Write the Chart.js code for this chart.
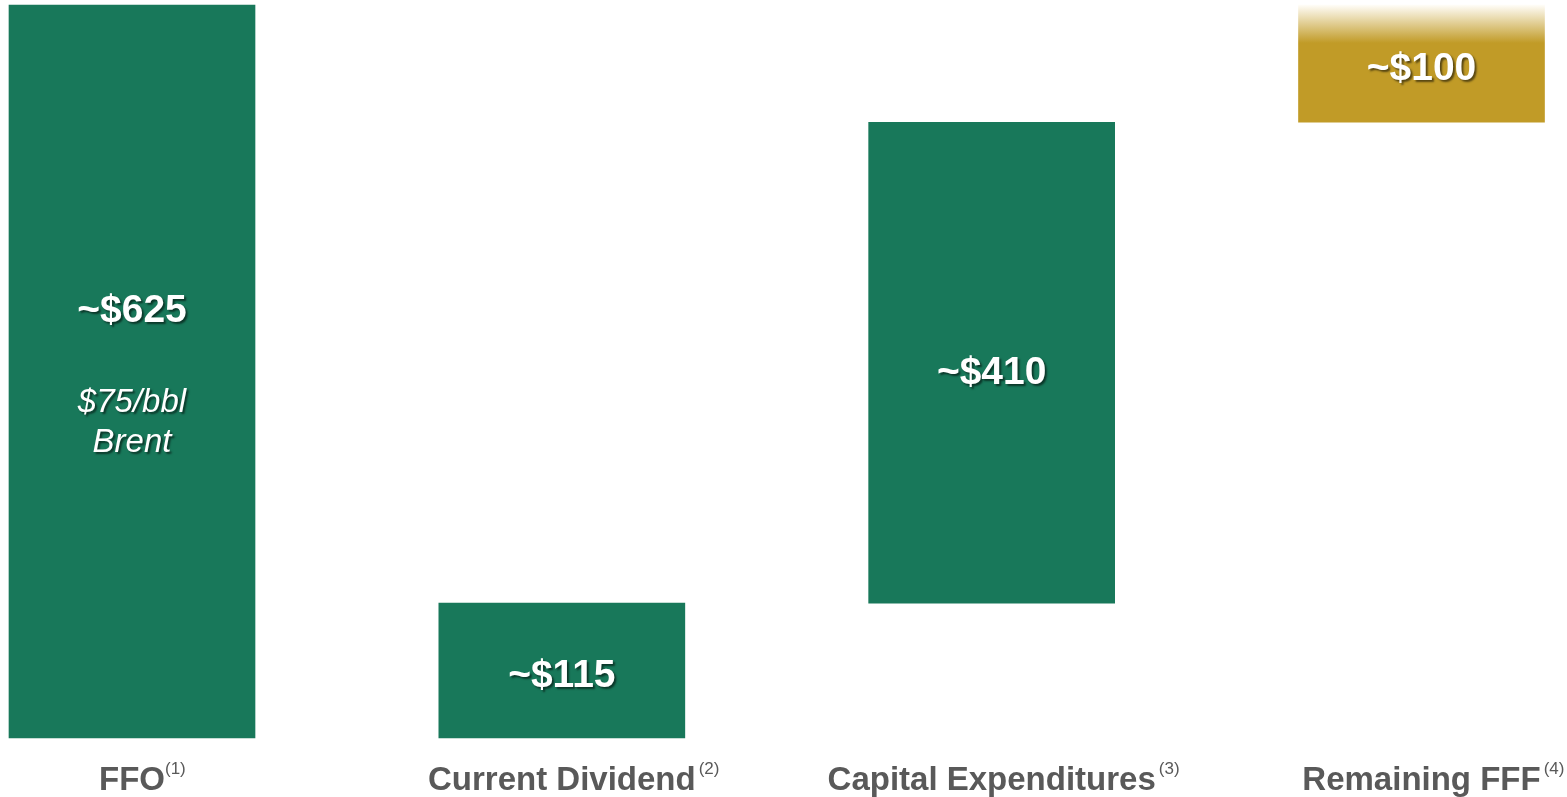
<!DOCTYPE html>
<html>
<head>
<meta charset="utf-8">
<script src="https://cdn.jsdelivr.net/npm/chart.js@4/dist/chart.umd.min.js"></script>
<style>
  html, body { margin: 0; padding: 0; background: #fff; overflow: hidden; }
</style>
</head>
<body>
<canvas id="chart" width="1567" height="797"></canvas>
<script>
const categories = ['FFO', 'Current Dividend', 'Capital Expenditures', 'Remaining FFF']
const footnotes = ['(1)', '(2)', '(3)', '(4)']
const barStarts = [0, 0, 115, 525]
const barEnds = [625, 115, 525, 625]
const valueLabels = ['~$625', '~$115', '~$410', '~$100']
const noteLines = ['$75/bbl', 'Brent'] // printed inside the FFO bar

const green = '#18785a'
const gold = '#c19b27'
const labelGrey = '#595959'
const font = '"Liberation Sans", Arial, sans-serif'
// nudge of the value label from the bar middle, px
const labelShift = [-60, 6, 11, 6]

// labels inside the bars + category labels with superscript footnotes
const labelPlugin = {
  id: 'labels',
  afterDatasetsDraw(chart) {
    const ctx = chart.ctx
    const meta = chart.getDatasetMeta(0)
    const area = chart.chartArea
    ctx.save()
    meta.data.forEach((bar, i) => {
      const mid = (bar.y + bar.base) / 2
      ctx.save()
      ctx.shadowColor = 'rgba(0,0,0,0.55)'
      ctx.shadowOffsetX = 2
      ctx.shadowOffsetY = 2
      ctx.shadowBlur = 2
      ctx.fillStyle = '#fff'
      ctx.textAlign = 'center'
      ctx.textBaseline = 'middle'
      ctx.font = 'bold 39px ' + font
      ctx.fillText(valueLabels[i], bar.x, mid + labelShift[i])
      if (i === 0) {
        ctx.font = 'italic 33px ' + font
        noteLines.forEach((t, j) => ctx.fillText(t, bar.x, mid + 31 + j * 40))
      }
      ctx.restore()

      // category label
      const baseY = area.bottom + 52
      ctx.font = 'bold 33px ' + font
      ctx.fillStyle = labelGrey
      ctx.textAlign = 'center'
      ctx.textBaseline = 'alphabetic'
      ctx.fillText(categories[i], bar.x, baseY)
      const w = ctx.measureText(categories[i]).width
      ctx.font = '17px ' + font
      ctx.textAlign = 'left'
      ctx.fillText(footnotes[i], bar.x + w / 2 + (i === 0 ? 0 : 3), baseY - 16)
    })
    ctx.restore()
  }
}

new Chart(document.getElementById('chart'), {
  type: 'bar',
  data: {
    labels: categories,
    datasets: [{
      data: barStarts.map((s, i) => [s, barEnds[i]]),
      backgroundColor: (c) => {
        if (c.dataIndex !== 3) return green
        const chart = c.chart
        if (!chart.chartArea) return gold
        const top = chart.scales.y.getPixelForValue(barEnds[3])
        const g = chart.ctx.createLinearGradient(0, top, 0, top + 38)
        g.addColorStop(0, '#fffdf8')
        g.addColorStop(1, gold)
        return g
      },
      borderWidth: 0,
      barThickness: 246,
      clip: false
    }]
  },
  options: {
    responsive: false,
    animation: false,
    layout: { padding: { left: 132, right: 145.5, top: 5, bottom: 59 } },
    plugins: {
      legend: { display: false },
      tooltip: { enabled: false }
    },
    scales: {
      x: { display: false, offset: false },
      y: { display: false, min: 0, max: 625 }
    }
  },
  plugins: [labelPlugin]
})
</script>
</body>
</html>
